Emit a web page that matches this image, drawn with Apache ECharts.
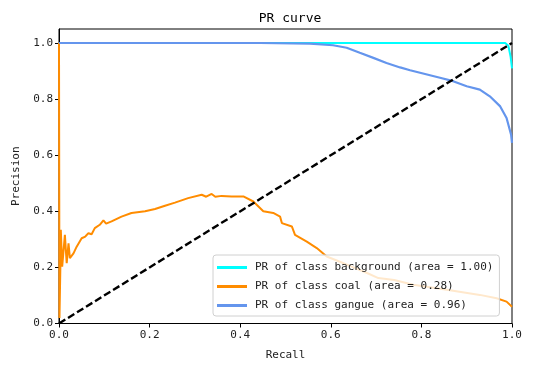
<!DOCTYPE html>
<html>
<head>
<meta charset="utf-8">
<script src="https://cdn.jsdelivr.net/npm/echarts@6/dist/echarts.min.js"></script>
<style>
html,body{margin:0;padding:0;background:#fff;}
#chart{width:553px;height:376px;}
</style>
</head>
<body>
<div id="chart"></div>
<script>
// [recall, precision] pairs
const backgroundPR = [[0,1.0],[0.5,1.0],[0.9,1.0],[0.985,1.0],[0.992,0.99],[0.997,0.95],[1.0,0.91]];
const coalPR = [
    [0,1.0],[0.001,0.02],[0.003,0.2],[0.004,0.334],[0.007,0.203],[0.013,0.316],[0.017,0.215],
    [0.021,0.286],[0.024,0.233],[0.032,0.25],[0.039,0.274],[0.05,0.304],[0.058,0.31],[0.065,0.322],
    [0.072,0.318],[0.079,0.34],[0.09,0.352],[0.098,0.368],[0.104,0.356],[0.116,0.364],[0.138,0.381],
    [0.16,0.394],[0.19,0.4],[0.212,0.408],[0.234,0.42],[0.256,0.431],[0.285,0.447],[0.315,0.459],
    [0.325,0.452],[0.337,0.462],[0.345,0.452],[0.359,0.455],[0.381,0.453],[0.407,0.453],
    [0.429,0.435],[0.451,0.4],[0.473,0.394],[0.488,0.381],[0.492,0.358],[0.514,0.346],
    [0.521,0.316],[0.547,0.292],[0.569,0.269],[0.591,0.239],[0.62,0.22],[0.65,0.2],[0.68,0.18],
    [0.705,0.162],[0.74,0.155],[0.782,0.138],[0.856,0.12],[0.929,0.102],[0.966,0.09],
    [0.988,0.078],[1.0,0.06]
];
const ganguePR = [
    [0,1.0],[0.444,1.0],[0.554,0.998],[0.605,0.992],[0.635,0.983],[0.664,0.965],[0.694,0.947],
    [0.723,0.929],[0.753,0.913],[0.775,0.903],[0.797,0.894],[0.841,0.876],[0.87,0.864],
    [0.9,0.846],[0.929,0.834],[0.951,0.81],[0.974,0.774],[0.988,0.733],[0.998,0.673],[1.0,0.644]
];
const chancePR = [[0,0],[1,1]];
const classNames = ['PR of class background (area = 1.00)','PR of class coal (area = 0.28)','PR of class gangue (area = 0.96)'];
const classColors = ['#00FFFF','#FF8C00','#6495ED'];
const precisionTicks = [0,0.2,0.4,0.6,0.8,1.0];

const font = '"DejaVu Sans Mono","Liberation Mono",monospace';
const chart = echarts.init(document.getElementById('chart'));

const option = {
    backgroundColor:'#fff',
    animation:false,
    title:{
        text:'PR curve',
        left:285,
        top:7,
        textAlign:'center',
        textStyle:{fontFamily:font,fontSize:13,fontWeight:'normal',color:'#000'}
    },
    grid:{
        left:59, right:41, top:29, bottom:52.5,
        show:true, borderColor:'#000', borderWidth:1, backgroundColor:'transparent'
    },
    legend:{
        data:classNames,
        orient:'vertical',
        left:213, top:255,
        padding:[7,6,5,4],
        itemGap:8,
        itemWidth:30, itemHeight:3,
        icon:'rect',
        backgroundColor:'rgba(255,255,255,0.8)',
        borderColor:'#d0d0d0', borderWidth:1, borderRadius:3,
        textStyle:{fontFamily:font,fontSize:11,color:'#222',padding:[0,0,0,3]}
    },
    xAxis:{
        type:'value', min:0, max:1, interval:0.2,
        name:'Recall', nameLocation:'middle', nameGap:26,
        nameTextStyle:{fontFamily:font,fontSize:11,color:'#222'},
        axisLine:{show:true,onZero:false,lineStyle:{color:'#000',width:1}},
        axisTick:{show:true,length:4,lineStyle:{color:'#000'}},
        axisLabel:{fontFamily:font,fontSize:11,color:'#222',margin:6,formatter:v=>v.toFixed(1)},
        splitLine:{show:false}
    },
    yAxis:{
        type:'value', min:0, max:1.05,
        name:'Precision', nameLocation:'middle', nameGap:37,
        nameTextStyle:{fontFamily:font,fontSize:11,color:'#222'},
        axisLine:{show:true,onZero:false,lineStyle:{color:'#000',width:1}},
        axisTick:{show:true,length:4,lineStyle:{color:'#000'},customValues:precisionTicks},
        axisLabel:{fontFamily:font,fontSize:11,color:'#222',margin:6,customValues:precisionTicks,formatter:v=>v.toFixed(1)},
        splitLine:{show:false}
    },
    series:[
        {name:classNames[0],type:'line',data:backgroundPR,showSymbol:false,color:classColors[0],lineStyle:{width:2,color:classColors[0]}},
        {name:classNames[1],type:'line',data:coalPR,showSymbol:false,color:classColors[1],lineStyle:{width:2,color:classColors[1]}},
        {name:classNames[2],type:'line',data:ganguePR,showSymbol:false,color:classColors[2],lineStyle:{width:2.2,color:classColors[2]}},
        {name:'chance',type:'line',data:chancePR,showSymbol:false,color:'#000',lineStyle:{width:2.4,color:'#000',type:[7.4,3.2]}}
    ]
};
chart.setOption(option);
</script>
</body>
</html>
